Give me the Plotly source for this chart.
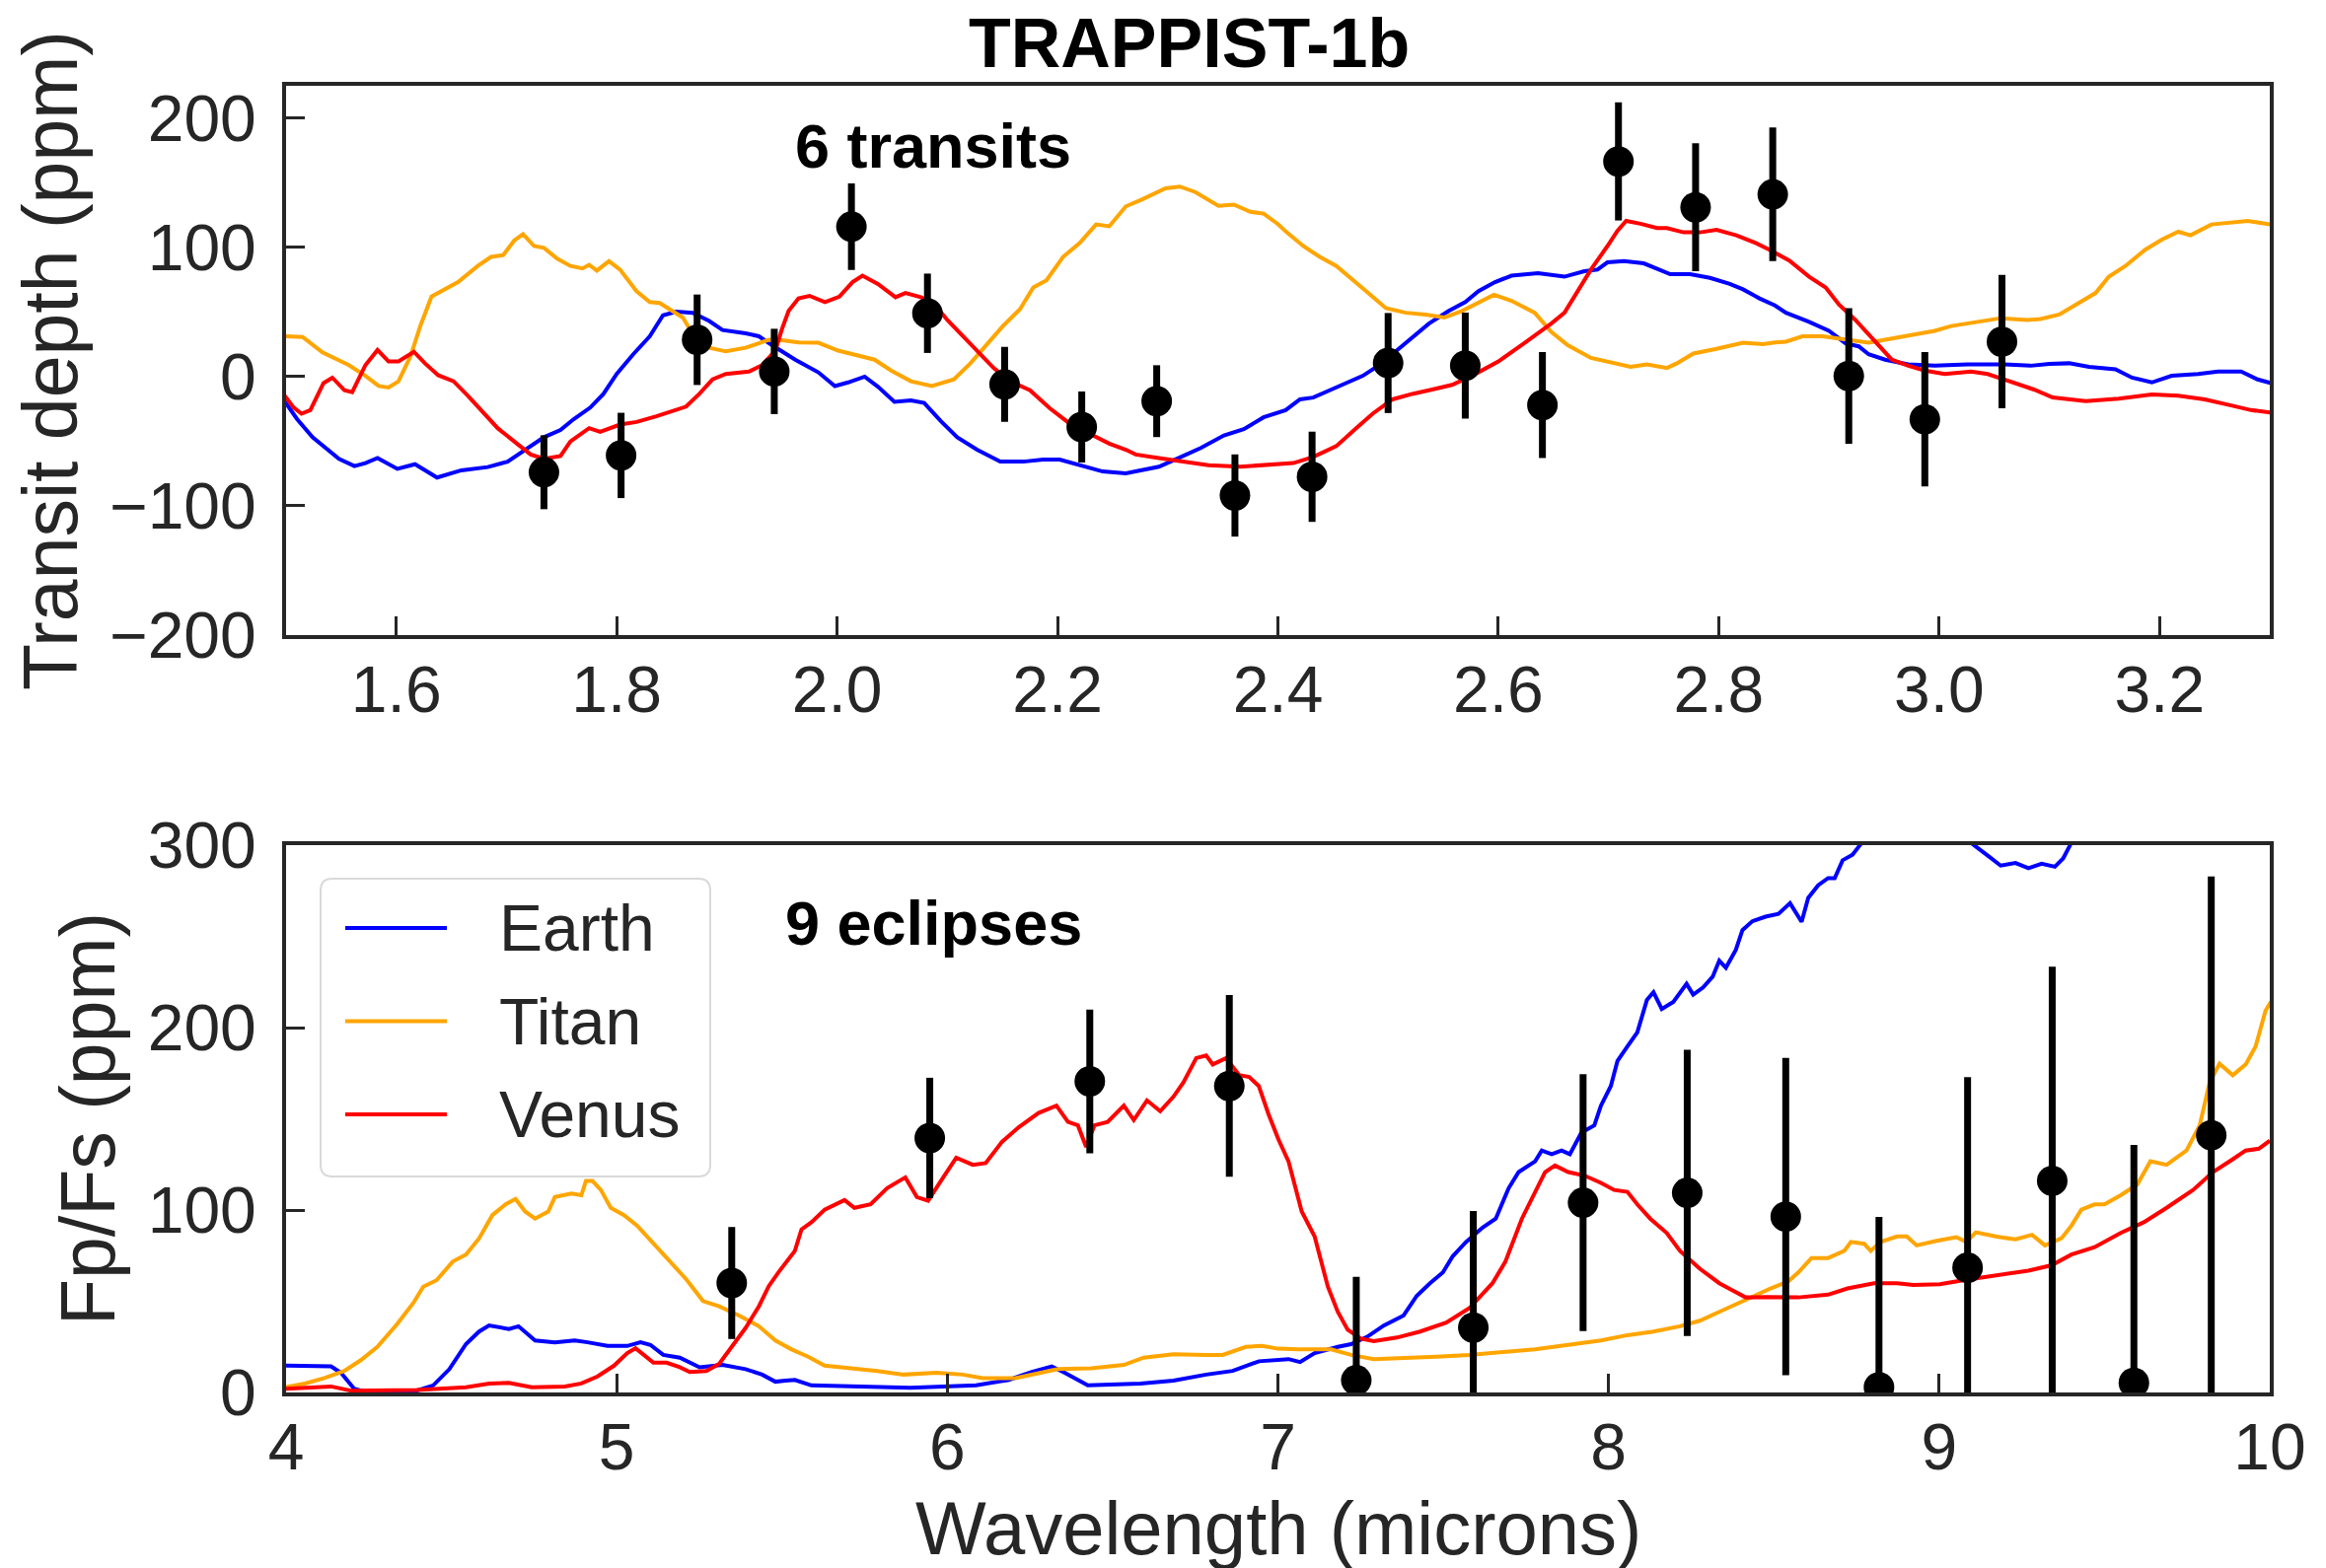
import plotly.graph_objects as go

# ---------------- data: top panel (transit depth, ppm) ----------------
top_obs_wl = [1.734, 1.804, 1.873, 1.943, 2.013, 2.082, 2.152, 2.222, 2.290, 2.361,
              2.431, 2.500, 2.570, 2.640, 2.709, 2.779, 2.849, 2.918, 2.987, 3.057]
top_obs_depth = [-74, -61, 28.5, 4, 116, 49, -6, -39, -19, -92,
                 -77.5, 10.5, 8.5, -22, 166.5, 131, 141, 0.5, -33, 27]
top_obs_err = [28.6, 33, 35, 33, 33.5, 30.7, 29, 27.5, 27.8, 31.8,
               34.9, 38.7, 41, 41, 45.7, 49.5, 51.7, 52.5, 52, 51.6]

top_earth_wl = [1.4975, 1.51, 1.524, 1.536, 1.548, 1.562, 1.572, 1.583, 1.601, 1.617, 1.637, 1.659,
                1.683, 1.701, 1.719, 1.734, 1.749, 1.761, 1.776, 1.788, 1.80, 1.815, 1.83, 1.842,
                1.854, 1.869, 1.884, 1.896, 1.917, 1.929, 1.941, 1.962, 1.983, 1.998, 2.01, 2.025,
                2.037, 2.052, 2.067, 2.079, 2.094, 2.109, 2.127, 2.148, 2.169, 2.187, 2.202, 2.223,
                2.241, 2.262, 2.277, 2.292, 2.31, 2.33, 2.351, 2.369, 2.387, 2.407, 2.42, 2.432,
                2.447, 2.462, 2.477, 2.492, 2.504, 2.519, 2.537, 2.555, 2.57, 2.582, 2.597, 2.612,
                2.636, 2.66, 2.678, 2.69, 2.699, 2.714, 2.732, 2.756, 2.774, 2.792, 2.81, 2.822,
                2.837, 2.851, 2.861, 2.882, 2.90, 2.915, 2.927, 2.936, 2.951, 2.972, 2.996, 3.026,
                3.056, 3.083, 3.10, 3.118, 3.136, 3.16, 3.175, 3.193, 3.211, 3.235, 3.253, 3.274,
                3.289, 3.301]
top_earth = [-17.6, -32.9, -46.9, -55.2, -63.6, -69.2, -66.9, -63, -71.4, -67.8, -78.1, -72.5,
             -70, -65.8, -55.2, -46.9, -41.3, -32.9, -24, -13.4, 2, 17.3, 31.2, 47.4,
             50.2, 49.4, 43, 36, 33.5, 31.2, 24.3, 13.1, 3.3, -7.3, -4.5, 0,
             -7.8, -19.5, -18.4, -20.4, -34.3, -46.9, -56.6, -65.8, -65.8, -64.2, -64.2, -69.2,
             -73.4, -74.8, -72, -69.7, -63, -55.2, -45.5, -40.7, -31.5, -26, -17.6, -16.2,
             -10.6, -5, 0.6, 8.9, 17.3, 28.5, 41, 50.8, 57.7, 66.1, 73.1, 78.1,
             80.1, 77.3, 81.5, 82.8, 88.4, 89.3, 87.6, 79.2, 79.2, 76.4, 71.7, 67.5,
             60.5, 55, 49.4, 42.4, 35.4, 25.7, 23.4, 17.3, 13.1, 9.5, 8.4, 9.5,
             9.5, 8.4, 9.8, 10.3, 7.5, 5.6, -0.8, -4.5, 0.6, 2, 3.9, 3.9,
             -2.2, -5]

top_titan_wl = [1.4975, 1.515, 1.533, 1.557, 1.572, 1.584, 1.593, 1.602, 1.613, 1.622, 1.632, 1.641,
                1.656, 1.674, 1.686, 1.697, 1.707, 1.715, 1.725, 1.734, 1.746, 1.758, 1.769, 1.775,
                1.782, 1.793, 1.803, 1.818, 1.83, 1.839, 1.851, 1.86, 1.872, 1.884, 1.899, 1.917,
                1.938, 1.952, 1.965, 1.983, 2.001, 2.019, 2.034, 2.049, 2.067, 2.086, 2.106, 2.121,
                2.133, 2.151, 2.166, 2.178, 2.19, 2.205, 2.22, 2.235, 2.247, 2.262, 2.277, 2.298,
                2.311, 2.325, 2.346, 2.36, 2.375, 2.387, 2.40, 2.408, 2.423, 2.438, 2.453, 2.465,
                2.48, 2.498, 2.516, 2.534, 2.551, 2.567, 2.582, 2.596, 2.612, 2.633, 2.648, 2.663,
                2.684, 2.705, 2.72, 2.735, 2.753, 2.762, 2.777, 2.798, 2.822, 2.84, 2.851, 2.861,
                2.876, 2.894, 2.912, 2.936, 2.951, 2.972, 2.996, 3.011, 3.032, 3.056, 3.08, 3.092,
                3.109, 3.13, 3.142, 3.154, 3.169, 3.187, 3.202, 3.217, 3.228, 3.247, 3.265, 3.28,
                3.301]
top_titan = [31.2, 30.7, 18.7, 8.9, 0.6, -7.3, -8.4, -3.6, 15.9, 39.6, 61.9, 66.1,
             73.1, 85.6, 92.6, 94, 105.2, 110.2, 101, 99.6, 91.2, 85.6, 83.7, 86.5,
             82, 89.3, 82.8, 66.1, 57.7, 56.9, 50.8, 45.7, 28.5, 22.3, 19.5, 22.3,
             28.5, 28, 26.5, 26.2, 20.1, 15.9, 13.1, 4.7, -3.6, -7.3, -2.2, 10.3,
             22.3, 39.6, 52.2, 68.9, 74.5, 92.6, 103.2, 117.7, 116.3, 131.7, 137.2, 145.6,
             147, 142.8, 132.2, 133.1, 127.5, 126.1, 118, 111.6, 101, 92.6, 85.6, 77.3,
             66.1, 53, 49.4, 48, 45.7, 50.8, 57.7, 63.3, 58.6, 49.4, 34.6, 24.3,
             14.5, 10.3, 7.5, 9.5, 6.7, 10.3, 17.9, 21.5, 26.2, 25.1, 26.5, 27,
             31.2, 31.2, 29, 26.2, 28.5, 31.8, 35.4, 39.1, 41.6, 45.2, 43.8, 44.6,
             48, 59.1, 64.7, 77.3, 85.6, 98.2, 106, 112.1, 109.3, 117.7, 119.1, 120.5,
             117.7]

top_venus_wl = [1.4975, 1.507, 1.514, 1.522, 1.534, 1.542, 1.553, 1.56, 1.572, 1.583, 1.593, 1.602,
                1.616, 1.626, 1.638, 1.652, 1.665, 1.677, 1.692, 1.707, 1.722, 1.734, 1.749, 1.758,
                1.775, 1.785, 1.803, 1.818, 1.836, 1.863, 1.875, 1.887, 1.899, 1.92, 1.932, 1.944,
                1.95, 1.956, 1.965, 1.975, 1.989, 2.002, 2.014, 2.023, 2.037, 2.053, 2.062, 2.076,
                2.088, 2.10, 2.112, 2.127, 2.142, 2.157, 2.175, 2.193, 2.211, 2.229, 2.247, 2.262,
                2.271, 2.292, 2.313, 2.337, 2.366, 2.39, 2.414, 2.432, 2.453, 2.471, 2.486, 2.504,
                2.522, 2.54, 2.558, 2.576, 2.60, 2.624, 2.648, 2.66, 2.672, 2.684, 2.699, 2.708,
                2.716, 2.729, 2.744, 2.753, 2.768, 2.783, 2.798, 2.816, 2.834, 2.846, 2.864, 2.882,
                2.897, 2.909, 2.924, 2.939, 2.957, 2.972, 2.987, 3.005, 3.029, 3.044, 3.068, 3.086,
                3.103, 3.133, 3.163, 3.193, 3.217, 3.241, 3.265, 3.283, 3.301]
top_venus = [-13.4, -24, -28.7, -25.9, -5, -0.8, -10.6, -12, 8.9, 20.6, 11.7, 11.7,
             19.2, 10.3, 1.1, -3.6, -14.8, -25.9, -39.9, -50.2, -60.3, -63.6, -61.4, -50.2,
             -39.9, -42.7, -37.1, -35.1, -30.7, -23.2, -13.4, -2.2, 2, 3.9, 8.9, 20.1,
             36.8, 50.8, 60.5, 62.5, 57.7, 61.9, 73.1, 78.1, 71.7, 61.4, 64.7, 61.4,
             56.3, 43.8, 33.5, 20.1, 6.7, -3.6, -10.6, -24.5, -36.3, -44.1, -51.9, -56.6,
             -60.3, -63, -65.8, -68.6, -69.7, -68.6, -66.9, -62.2, -53.8, -39.9, -28.7, -17.6,
             -13.4, -10, -6.4, 0.6, 11.7, 26.2, 41, 49.4, 66.1, 82.8, 101, 112.7,
             120.5, 118.3, 114.9, 114.9, 111.6, 111.6, 113.5, 109.3, 103.2, 98.2, 89.8, 77.3,
             68.9, 55.8, 43.8, 29.8, 13.1, 8.4, 4.7, 2, 3.9, 2, -5, -10,
             -16.2, -19, -17, -13.9, -14.8, -17.6, -22.3, -25.9, -27.9]

# ---------------- data: bottom panel (Fp/Fs, ppm) ----------------
bot_obs_wl = [5.348, 5.947, 6.431, 6.853, 7.237, 7.591, 7.923, 8.238, 8.536, 8.818,
              9.086, 9.342, 9.589, 9.823]
bot_obs_flux = [60, 139.5, 170.5, 168, 6.7, 35.5, 104, 109.4, 96.4, 2.9,
                68.4, 116, 5.3, 141]
bot_obs_err = [30.7, 33, 39.4, 49.8, 56.7, 64, 70.4, 78.4, 87, 93.3,
               104.4, 117.4, 130.4, 141.8]

bot_earth_wl = [3.997, 4.057, 4.136, 4.166, 4.206, 4.246, 4.395, 4.445, 4.494, 4.544, 4.584, 4.614,
                4.674, 4.703, 4.753, 4.813, 4.873, 4.912, 4.972, 5.032, 5.072, 5.102, 5.141, 5.191,
                5.251, 5.32, 5.39, 5.44, 5.48, 5.51, 5.539, 5.589, 5.689, 5.888, 6.087, 6.186,
                6.256, 6.316, 6.355, 6.425, 6.584, 6.684, 6.783, 6.863, 6.943, 6.99, 7.032, 7.067,
                7.111, 7.181, 7.221, 7.27, 7.32, 7.38, 7.42, 7.46, 7.499, 7.529, 7.569, 7.619,
                7.659, 7.698, 7.728, 7.778, 7.798, 7.828, 7.858, 7.883, 7.918, 7.957, 7.977, 8.007,
                8.027, 8.057, 8.087, 8.116, 8.136, 8.161, 8.196, 8.236, 8.256, 8.286, 8.315, 8.335,
                8.355, 8.385, 8.405, 8.435, 8.475, 8.514, 8.549, 8.584, 8.604, 8.634, 8.664, 8.684,
                8.708, 8.738, 8.763, 8.93, 9.101, 9.151, 9.186, 9.231, 9.27, 9.31, 9.35, 9.375,
                9.395, 9.42, 9.7, 10.0]
bot_earth = [14.7, 14.7, 14.3, 10.8, 2, 0, 1, 3.9, 12.8, 26.5, 33.4, 36.7,
             34.8, 36.3, 28.5, 27.5, 28.5, 27.5, 25.5, 25.5, 27.5, 26.1, 20.6, 19.1,
             13.8, 15.1, 12.8, 9.8, 5.9, 6.5, 6.9, 3.9, 3.3, 2.6, 3.9, 6.9,
             11.2, 14.3, 10.8, 3.9, 4.9, 6.5, 9.8, 11.8, 17.1, 18, 18.3, 16.7,
             21.6, 25, 26.5, 30.5, 36.7, 42.2, 53, 59.9, 65.8, 74.7, 82.5, 90.4,
             95.3, 112, 120.8, 126.7, 132.6, 130.6, 132.6, 130.6, 142.4, 146.4, 157.2, 168,
             181.7, 189.6, 197.4, 215.1, 219.4, 210.2, 214.1, 224, 218.1, 222, 227.9, 236.7,
             232.8, 242.6, 253.4, 258.3, 260.8, 262.3, 268.2, 258, 271.1, 278, 281.9, 281.9,
             291.7, 294.7, 300.6, 320, 300.6, 293.7, 288.8, 290.2, 287.4, 289.8, 288.2, 292.7,
             299.6, 310, 340, 360]

bot_titan_wl = [3.997, 4.057, 4.116, 4.176, 4.226, 4.276, 4.335, 4.385, 4.415, 4.455, 4.504, 4.544,
                4.584, 4.624, 4.664, 4.694, 4.723, 4.753, 4.793, 4.813, 4.863, 4.893, 4.907, 4.927,
                4.952, 4.982, 5.022, 5.062, 5.092, 5.131, 5.171, 5.211, 5.261, 5.31, 5.37, 5.43,
                5.48, 5.529, 5.579, 5.629, 5.709, 5.788, 5.868, 5.967, 6.047, 6.107, 6.206, 6.286,
                6.335, 6.435, 6.534, 6.594, 6.684, 6.783, 6.833, 6.903, 6.952, 7.0, 7.062, 7.161,
                7.221, 7.29, 7.38, 7.479, 7.579, 7.679, 7.778, 7.878, 7.977, 8.057, 8.136, 8.216,
                8.276, 8.335, 8.395, 8.455, 8.49, 8.544, 8.574, 8.614, 8.664, 8.713, 8.733, 8.773,
                8.793, 8.823, 8.873, 8.902, 8.932, 8.992, 9.052, 9.082, 9.111, 9.171, 9.231, 9.281,
                9.32, 9.37, 9.40, 9.43, 9.47, 9.50, 9.549, 9.599, 9.639, 9.688, 9.748, 9.788,
                9.818, 9.848, 9.888, 9.927, 9.957, 9.987, 10.003]
bot_titan = [2.9, 4.9, 7.9, 11.8, 17.7, 25, 37.3, 49.1, 58, 61.5, 71.7, 75.6,
             84.5, 97.2, 103.1, 106.1, 99.2, 95.3, 99.2, 107.1, 109, 108.1, 115.9, 115.9,
             111, 101.2, 97.2, 91.4, 85.5, 77.6, 69.7, 61.9, 50.1, 47.2, 42.2, 36.3,
             28.5, 23.6, 19.6, 14.7, 13.2, 11.8, 9.8, 10.8, 9.8, 7.9, 7.9, 10.8,
             12.8, 13.2, 15.1, 19.1, 21, 20.6, 20.6, 25, 25.5, 24, 23.6, 23.6,
             20.6, 18.3, 18.7, 19.6, 20.6, 22.2, 23.6, 26.1, 28.5, 31.4, 33.4, 36.3,
             39.3, 44.2, 49.1, 54.4, 57, 60.9, 65.8, 73.7, 73.7, 77.6, 82.5, 81.5,
             77.6, 82.5, 85.5, 85.5, 80.6, 83.1, 85.1, 82.5, 87.8, 85.5, 83.9, 86.4,
             80.6, 84.5, 91.4, 100.2, 103.1, 103.1, 108.1, 113.9, 126.7, 124.8, 132.6, 146.4,
             169.9, 180.2, 173.9, 179.8, 189.6, 209.2, 214.1]

bot_venus_wl = [3.997, 4.077, 4.136, 4.196, 4.395, 4.544, 4.614, 4.674, 4.743, 4.843, 4.893, 4.942,
                4.992, 5.032, 5.057, 5.082, 5.111, 5.151, 5.191, 5.221, 5.271, 5.31, 5.35, 5.39,
                5.43, 5.46, 5.49, 5.51, 5.539, 5.559, 5.589, 5.629, 5.689, 5.719, 5.768, 5.818,
                5.873, 5.908, 5.942, 5.977, 6.027, 6.077, 6.116, 6.166, 6.216, 6.276, 6.33, 6.365,
                6.395, 6.42, 6.445, 6.485, 6.534, 6.564, 6.604, 6.644, 6.684, 6.714, 6.753, 6.783,
                6.803, 6.843, 6.883, 6.913, 6.942, 6.972, 7.002, 7.032, 7.072, 7.111, 7.151, 7.181,
                7.211, 7.251, 7.29, 7.36, 7.43, 7.509, 7.579, 7.649, 7.688, 7.738, 7.778, 7.808,
                7.838, 7.878, 7.927, 7.977, 8.017, 8.057, 8.087, 8.126, 8.176, 8.216, 8.276, 8.335,
                8.375, 8.415, 8.475, 8.574, 8.664, 8.723, 8.803, 8.873, 8.922, 9.002, 9.072, 9.171,
                9.27, 9.34, 9.40, 9.47, 9.549, 9.619, 9.688, 9.768, 9.828, 9.887, 9.927, 9.967,
                10.0]
bot_venus = [2, 2.6, 3.3, 1, 1.4, 2.9, 4.9, 5.3, 2.9, 3.3, 4.9, 8.8,
             14.7, 21.6, 24.2, 20.6, 16.3, 16.3, 13.8, 11.2, 11.8, 15.7, 25.5, 35.4,
             47.2, 58.3, 66, 70.7, 77.6, 89.4, 93.3, 100.2, 105.5, 101.2, 103.1, 112,
             117.9, 107.1, 105.1, 114.9, 128.7, 124.8, 125.7, 137.5, 145.4, 153.2, 157.2, 148.3,
             146.4, 134.6, 146.4, 148.3, 157.2, 149.3, 160.1, 154.2, 162.1, 169.9, 183.3, 184.7,
             179.8, 183.3, 173.9, 172.9, 168, 152.3, 138.5, 126.7, 99.2, 85.5, 58, 44.2,
             34.4, 29.5, 28.1, 30.1, 33.4, 38.3, 46.2, 59.9, 71.7, 95.3, 110, 120.8,
             124.4, 120.8, 118.9, 114.9, 111, 110, 103.1, 95.3, 87.4, 77.6, 67.8, 59.9,
             56, 52.1, 52.3, 52.1, 53.6, 57, 59.9, 59.9, 58.9, 59.3, 61.5, 64.2,
             66.8, 69.7, 75.6, 79.6, 87.4, 93.3, 101.2, 111, 120.8, 127.7, 132.6, 133.6,
             138]

# ---------------- labels / ticks ----------------
title_text = "TRAPPIST-1b"
top_note = "6 transits"
bot_note = "9 eclipses"
top_ylabel = "Transit depth (ppm)"
bot_ylabel = "Fp/Fs (ppm)"
xlabel = "Wavelength (microns)"
model_names = ["Earth", "Titan", "Venus"]
model_colors = ["#0000ff", "#ffa500", "#ff0000"]
top_xticks = [1.6, 1.8, 2.0, 2.2, 2.4, 2.6, 2.8, 3.0, 3.2]
top_yticks = [-200, -100, 0, 100, 200]
bot_xticks = [4, 5, 6, 7, 8, 9, 10]
bot_yticks = [0, 100, 200, 300]

# ---------------- figure ----------------
W, H = 2358, 1590
ML, MR, MT, MB = 290, 57, 87, 178
PW, PH = W - ML - MR, H - MT - MB


def px_x(px):
    return (px - ML) / PW


def px_y(py):
    return (H - MB - py) / PH


FONT = "Liberation Sans, Arial, Helvetica, sans-serif"
INK = "#262626"

fig = go.Figure()

top_models = [(top_earth_wl, top_earth), (top_titan_wl, top_titan), (top_venus_wl, top_venus)]
bot_models = [(bot_earth_wl, bot_earth), (bot_titan_wl, bot_titan), (bot_venus_wl, bot_venus)]

for (xs, ys), name, col in zip(top_models, model_names, model_colors):
    fig.add_trace(go.Scatter(x=xs, y=ys, mode="lines", name=name,
                             line=dict(color=col, width=4), xaxis="x", yaxis="y",
                             showlegend=False))
for (xs, ys), name, col in zip(bot_models, model_names, model_colors):
    fig.add_trace(go.Scatter(x=xs, y=ys, mode="lines", name=name,
                             line=dict(color=col, width=4), xaxis="x2", yaxis="y2",
                             showlegend=False))

fig.add_trace(go.Scatter(x=top_obs_wl, y=top_obs_depth, mode="markers",
                         marker=dict(color="black", size=31),
                         error_y=dict(type="data", array=top_obs_err, color="black",
                                      thickness=7, width=0),
                         xaxis="x", yaxis="y", showlegend=False))
fig.add_trace(go.Scatter(x=bot_obs_wl, y=bot_obs_flux, mode="markers",
                         marker=dict(color="black", size=31),
                         error_y=dict(type="data", array=bot_obs_err, color="black",
                                      thickness=7, width=0),
                         xaxis="x2", yaxis="y2", showlegend=False))

axis_common = dict(showline=True, mirror=True, linewidth=4, linecolor=INK,
                   ticks="inside", ticklen=19, tickwidth=3, tickcolor=INK,
                   showgrid=False, zeroline=False,
                   tickfont=dict(family=FONT, size=66, color=INK))

top_frac = px_y(644)
bot_frac = px_y(857)

fig.update_layout(
    width=W, height=H,
    margin=dict(l=ML, r=MR, t=MT, b=MB),
    paper_bgcolor="white", plot_bgcolor="white",
    showlegend=False,
    xaxis=dict(axis_common, domain=[0, 1], anchor="y", range=[1.5, 3.3],
               tickvals=top_xticks, ticktext=[f"{v:.1f}" for v in top_xticks],
               ticklabelstandoff=-5),
    yaxis=dict(axis_common, domain=[top_frac, 1], anchor="x", range=[-200, 225],
               tickvals=top_yticks, ticklabelstandoff=13),
    xaxis2=dict(axis_common, domain=[0, 1], anchor="y2", range=[4, 10],
                tickvals=bot_xticks, ticktext=[str(v) for v in bot_xticks],
                ticklabelstandoff=-5),
    yaxis2=dict(axis_common, domain=[0, bot_frac], anchor="x2", range=[0, 300],
                tickvals=bot_yticks, ticklabelstandoff=13),
)

ann = []
ann.append(dict(text=f"<b>{title_text}</b>", x=px_x(1205), y=px_y(44), xref="paper", yref="paper",
                xanchor="center", yanchor="middle", showarrow=False,
                font=dict(family=FONT, size=70, color="black")))
ann.append(dict(text=f"<b>{top_note}</b>", x=px_x(946), y=px_y(148), xref="paper", yref="paper",
                xanchor="center", yanchor="middle", showarrow=False,
                font=dict(family=FONT, size=63, color="black")))
ann.append(dict(text=f"<b>{bot_note}</b>", x=px_x(946), y=px_y(936), xref="paper", yref="paper",
                xanchor="center", yanchor="middle", showarrow=False,
                font=dict(family=FONT, size=63, color="black")))
ann.append(dict(text=top_ylabel, x=px_x(51), y=px_y(366), xref="paper", yref="paper",
                xanchor="center", yanchor="middle", textangle=-90, showarrow=False,
                font=dict(family=FONT, size=77, color=INK)))
ann.append(dict(text=bot_ylabel, x=px_x(89), y=px_y(1135), xref="paper", yref="paper",
                xanchor="center", yanchor="middle", textangle=-90, showarrow=False,
                font=dict(family=FONT, size=77, color=INK)))
ann.append(dict(text=xlabel, x=px_x(1296), y=px_y(1549), xref="paper", yref="paper",
                xanchor="center", yanchor="middle", showarrow=False,
                font=dict(family=FONT, size=76, color=INK)))

# legend (drawn manually to match the matplotlib look)
shapes = []
x0, x1 = px_x(325), px_x(720)
yt, yb = px_y(891), px_y(1193)
rx, ry = 12 / PW, 12 / PH
path = (f"M {x0+rx},{yt} L {x1-rx},{yt} Q {x1},{yt} {x1},{yt-ry} "
        f"L {x1},{yb+ry} Q {x1},{yb} {x1-rx},{yb} L {x0+rx},{yb} "
        f"Q {x0},{yb} {x0},{yb+ry} L {x0},{yt-ry} Q {x0},{yt} {x0+rx},{yt} Z")
shapes.append(dict(type="path", path=path, xref="paper", yref="paper",
                   fillcolor="rgba(255,255,255,0.8)", line=dict(color="#d9d9d9", width=2),
                   layer="above"))
leg_rows = [941, 1035.5, 1130]
for name, col, ry_px in zip(model_names, model_colors, leg_rows):
    shapes.append(dict(type="line", xref="paper", yref="paper",
                       x0=px_x(350), x1=px_x(453), y0=px_y(ry_px), y1=px_y(ry_px),
                       line=dict(color=col, width=4), layer="above"))
    ann.append(dict(text=name, x=px_x(504), y=px_y(ry_px), xref="paper", yref="paper",
                    xanchor="left", yanchor="middle", showarrow=False,
                    font=dict(family=FONT, size=66, color=INK)))

fig.update_layout(annotations=ann, shapes=shapes)

fig.write_html("out.html")
